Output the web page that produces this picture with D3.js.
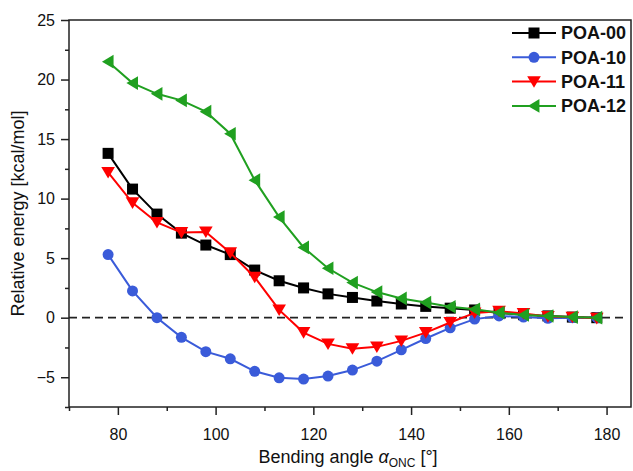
<!DOCTYPE html>
<html><head><meta charset="utf-8">
<script src="https://cdn.jsdelivr.net/npm/d3@7/dist/d3.min.js"></script>
<style>body{margin:0;background:#fff}svg{display:block;font-family:"Liberation Sans",Arial,sans-serif}</style>
</head><body><svg id="c" width="633" height="471"></svg>
<script>
const angles = [78,83,88,93,98,103,108,113,118,123,128,133,138,143,148,153,158,163,168,173,178];
const poa00 = [13.8,10.8,8.7,7.1,6.1,5.3,4.0,3.1,2.5,2.0,1.7,1.4,1.15,0.95,0.8,0.65,0.4,0.25,0.15,0.05,0.0];
const poa10 = [5.3,2.25,0.0,-1.65,-2.85,-3.45,-4.5,-5.05,-5.15,-4.9,-4.4,-3.65,-2.7,-1.75,-0.85,-0.12,0.15,0.05,-0.05,0.0,0.0];
const poa11 = [12.2,9.65,8.0,7.15,7.2,5.45,3.4,0.65,-1.25,-2.2,-2.6,-2.45,-1.95,-1.25,-0.4,0.4,0.55,0.35,0.1,0.05,-0.05];
const poa12 = [21.5,19.7,18.8,18.25,17.3,15.45,11.55,8.45,5.9,4.15,2.95,2.15,1.62,1.27,0.92,0.7,0.42,0.23,0.14,0.05,0.0];
const seriesNames = ["POA-00","POA-10","POA-11","POA-12"];
const seriesColors = ["#000000","#3a5bd9","#ff0000","#20a020"];
const seriesSymbols = ["square","circle","down","left"];
const xTicks = [80,100,120,140,160,180];
const yTicks = [-5,0,5,10,15,20,25];

const svg = d3.select("#c");
const L=69, R=631, T=20, B=407;
const x = d3.scaleLinear().domain([70,185]).range([L,R]);
const y = d3.scaleLinear().domain([-7.5,25]).range([B,T]);

// frame
svg.append("rect").attr("x",L).attr("y",T).attr("width",R-L).attr("height",B-T)
  .attr("fill","none").attr("stroke","#222").attr("stroke-width",1.5);

// x axis
const xMinor = d3.range(70,186,10).filter(v=>!xTicks.includes(v));
const gx = svg.append("g").attr("transform",`translate(0,${B})`);
gx.call(d3.axisBottom(x).tickValues(xMinor).tickSize(4).tickFormat(""));
gx.append("g").call(d3.axisBottom(x).tickValues(xTicks).tickSize(8).tickPadding(14).tickFormat(d3.format("d")));
gx.selectAll(".domain").remove();
gx.selectAll("line").attr("stroke","#222").attr("stroke-width",1.5);
gx.selectAll("text").attr("font-size",16).attr("fill","#111").attr("font-family","Liberation Sans, Arial, sans-serif");

// y axis
const yMinor = d3.range(-7.5,25.1,2.5).filter(v=>!yTicks.includes(v));
const gy = svg.append("g").attr("transform",`translate(${L},0)`);
gy.call(d3.axisLeft(y).tickValues(yMinor).tickSize(4).tickFormat(""));
gy.append("g").call(d3.axisLeft(y).tickValues(yTicks).tickSize(8).tickPadding(6).tickFormat(d=>d<0?"\u2212"+Math.abs(d):d));
gy.selectAll(".domain").remove();
gy.selectAll("line").attr("stroke","#222").attr("stroke-width",1.5);
gy.selectAll("text").attr("font-size",16).attr("fill","#111").attr("font-family","Liberation Sans, Arial, sans-serif");

// zero dashed line
svg.append("line").attr("x1",L).attr("x2",R-8).attr("y1",y(0)).attr("y2",y(0))
  .attr("stroke","#222").attr("stroke-width",1.8).attr("stroke-dasharray","8,5");

// symbol drawer
function sym(g, type, cx, cy, color, s){
  if(type==="square") g.append("rect").attr("x",cx-s/2).attr("y",cy-s/2).attr("width",s).attr("height",s).attr("fill",color);
  else if(type==="circle") g.append("circle").attr("cx",cx).attr("cy",cy).attr("r",s*0.5).attr("fill",color);
  else if(type==="down"){ const h=s*0.62;
    g.append("path").attr("d",`M${cx-h},${cy-h*0.8}L${cx+h},${cy-h*0.8}L${cx},${cy+h*0.9}Z`).attr("fill",color);}
  else if(type==="left"){ const h=s*0.62;
    g.append("path").attr("d",`M${cx+h*0.8},${cy-h}L${cx+h*0.8},${cy+h}L${cx-h*0.9},${cy}Z`).attr("fill",color);}
}

const data = [poa00,poa10,poa11,poa12];
const line = d3.line().x(d=>x(d[0])).y(d=>y(d[1]));
data.forEach((vals,i)=>{
  const pts = angles.map((a,j)=>[a,vals[j]]);
  const g = svg.append("g");
  g.append("path").attr("d",line(pts)).attr("fill","none").attr("stroke",seriesColors[i]).attr("stroke-width",2);
  pts.forEach(p=>sym(g,seriesSymbols[i],x(p[0]),y(p[1]),seriesColors[i],11));
});

// legend
const lg = svg.append("g");
seriesNames.forEach((n,i)=>{
  const yy = 33 + i*24.3;
  lg.append("line").attr("x1",512).attr("x2",556).attr("y1",yy).attr("y2",yy).attr("stroke",seriesColors[i]).attr("stroke-width",2);
  sym(lg,seriesSymbols[i],534,yy,seriesColors[i],11);
  lg.append("text").attr("x",561).attr("y",yy).attr("dy","0.36em").attr("font-size",18).attr("font-weight","bold").attr("fill","#111").text(n);
});

// axis titles
const xt = svg.append("text").attr("x",(L+R)/2 - 2).attr("y",463).attr("text-anchor","middle").attr("font-size",18).attr("fill","#111");
xt.append("tspan").text("Bending angle ");
xt.append("tspan").attr("font-style","italic").text("\u03b1");
xt.append("tspan").attr("font-size",12).attr("dy",4).text("ONC");
xt.append("tspan").attr("dy",-4).text(" [\u00b0]");

svg.append("text").attr("transform",`translate(24,${(T+B)/2}) rotate(-90)`).attr("text-anchor","middle")
  .attr("font-size",18).attr("fill","#111").text("Relative energy [kcal/mol]");
</script></body></html>
